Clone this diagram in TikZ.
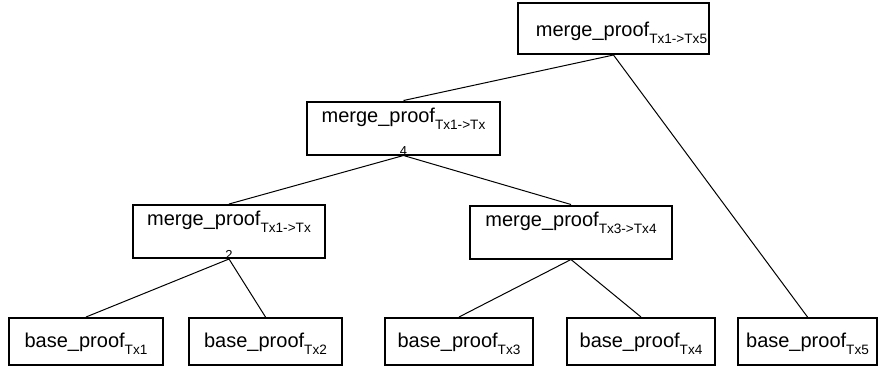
\documentclass[tikz,border=0pt]{standalone}
\usepackage{fontspec}
\setmainfont{Liberation Sans}
\newcommand{\txsub}[1]{\raisebox{-3.6pt}{\fontsize{6.8}{8}\selectfont #1}}

\begin{document}
\begin{tikzpicture}[x=0.5pt, y=-0.5pt,
        proof/.style={draw, line width=1pt, inner sep=0pt, font=\fontsize{10}{12}\selectfont},
        topbox/.style={proof, minimum height=25.5pt, text height=16.75pt, text depth=8.75pt},
        mergebox/.style={proof, minimum height=26.5pt, text height=10.25pt, text depth=16.25pt},
        basebox/.style={proof, minimum height=23.5pt, text height=14.5pt, text depth=9pt},
        tally/.style={anchor=base, inner sep=0pt, font=\fontsize{6.5}{7}\selectfont},
        link/.style={line width=0.5pt}]

        \useasboundingbox (0,0) rectangle (878,366);

        % merge proofs
        \node[topbox, minimum width=95.5pt] (m15) at (613.5,28.5)
            {\hspace*{8pt}merge\_proof\txsub{Tx1->Tx5}};
        \node[mergebox, minimum width=96.5pt] (m14) at (403.5,128)
            {merge\_proof\txsub{Tx1->Tx}};
        \node[mergebox, minimum width=96pt] (m12) at (229,231.5)
            {merge\_proof\txsub{Tx1->Tx}};
        \node[mergebox, minimum width=101pt] (m34) at (571,232)
            {merge\_proof\txsub{Tx3->Tx4}};

        \node[tally] (c4) at (m14.south) {4};
        \node[tally] (c2) at (m12.south) {2};

        % base proofs
        \node[basebox, minimum width=77pt] (b1) at (86,341.5) {base\_proof\txsub{Tx1}};
        \node[basebox, minimum width=76.5pt] (b2) at (265.5,341.5) {base\_proof\txsub{Tx2}};
        \node[basebox, minimum width=74pt] (b3) at (459,341.5) {base\_proof\txsub{Tx3}};
        \node[basebox, minimum width=74pt] (b4) at (641,341.5) {base\_proof\txsub{Tx4}};
        \node[basebox, minimum width=69.5pt] (b5) at (807.5,341.5) {base\_proof\txsub{Tx5}};

        \draw[link]
            (m15.south) -- (m14.north)
            (m15.south) -- (b5.north)
            (m14.south) -- (m12.north)
            (m14.south) -- (m34.north)
            (m12.south) -- (b1.north)
            (m12.south) -- (b2.north)
            (m34.south) -- (b3.north)
            (m34.south) -- (b4.north);

\end{tikzpicture}
\end{document}
